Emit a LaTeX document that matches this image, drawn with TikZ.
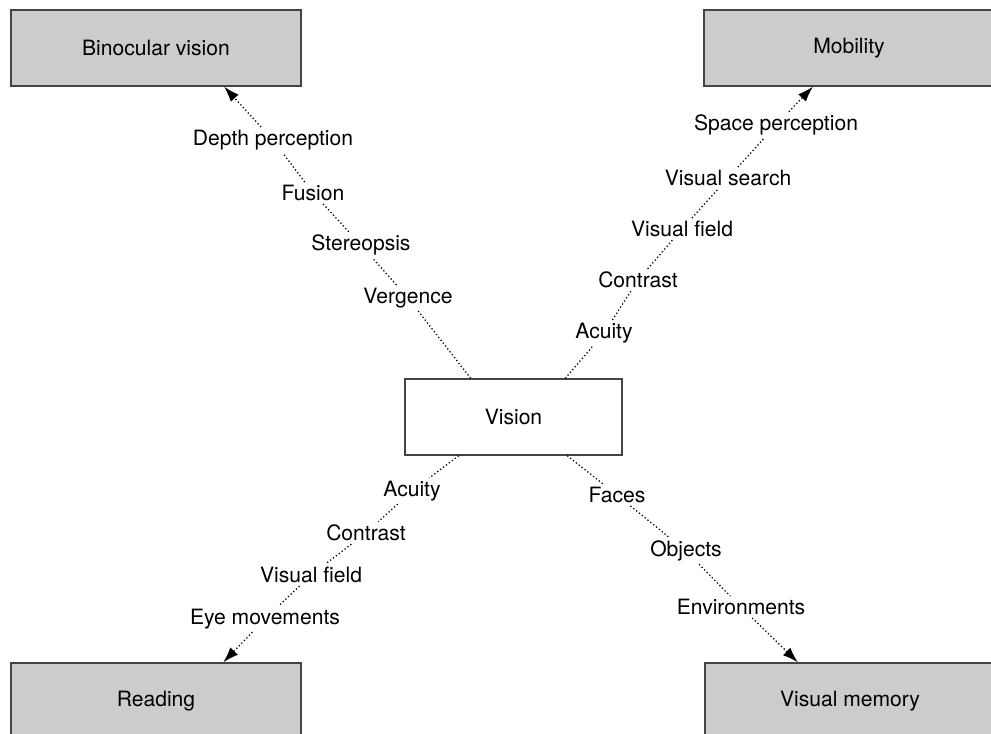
\documentclass[tikz,border=0pt]{standalone}
\usepackage{fontspec}
\setmainfont{TeX Gyre Heros}
\usetikzlibrary{arrows.meta,calc}
\definecolor{boxgray}{HTML}{CCCCCC}
\definecolor{edgegray}{HTML}{444444}
\tikzset{
    block/.style = {draw=edgegray, fill=boxgray, rectangle, line width=1pt,
        minimum height=1.9cm,
        minimum width=7.25cm, align=center},
    hub/.style = {draw=edgegray, fill=white, rectangle, line width=1pt,
        minimum height=1.9cm, minimum width=5.425cm},
    lbl/.style = {inner sep=2pt},
    dotarrow/.style = {draw, line width=0.9pt, dash pattern=on 0.9pt off 1.7pt,
        -{Latex[length=11pt,width=7.5pt]}}
}

\begin{document}
\begin{tikzpicture}[x=0.025cm, y=-0.025cm, font=\fontsize{15}{18}\selectfont]
        \useasboundingbox (0,0) rectangle (991,733);
        \clip (0,0) rectangle (991,733);
        % boxes
        \node [hub] (vision) at (513.5,417) {Vision};
        \node [block] (binoc) at (156,48) {Binocular vision};
        \node [block] (mobil) at (849,48) {Mobility};
        \node [block] (read) at (156,701) {Reading};
        \node [block] (vmem) at (850,701) {Visual memory};
        % end points on the box edges
        \coordinate (vtl) at ($(vision.north west)!.304!(vision.north east)$);
        \coordinate (vtr) at ($(vision.north west)!.737!(vision.north east)$);
        \coordinate (vbl) at ($(vision.south west)!.249!(vision.south east)$);
        \coordinate (vbr) at ($(vision.south west)!.746!(vision.south east)$);
        \coordinate (btl) at ($(binoc.south west)!.734!(binoc.south east)$);
        \coordinate (btr) at ($(mobil.south west)!.376!(mobil.south east)$);
        \coordinate (bbl) at ($(read.north west)!.731!(read.north east)$);
        \coordinate (bbr) at ($(vmem.north west)!.321!(vmem.north east)$);
        % labels
        \node [lbl] (tl1) at (408,298) {Vergence};
        \node [lbl] (tl2) at (361,245) {Stereopsis};
        \node [lbl] (tl3) at (313,193) {Fusion};
        \node [lbl] (tl4) at (273,140) {Depth perception};
        \node [lbl] (tr1) at (604,333) {Acuity};
        \node [lbl] (tr2) at (638,280) {Contrast};
        \node [lbl] (tr3) at (682,229) {Visual field};
        \node [lbl] (tr4) at (728,178) {Visual search};
        \node [lbl] (tr5) at (776,125) {Space perception};
        \node [lbl] (bl1) at (412,491) {Acuity};
        \node [lbl] (bl2) at (366,533) {Contrast};
        \node [lbl] (bl3) at (311,575) {Visual field};
        \node [lbl] (bl4) at (265,619) {Eye movements};
        \node [lbl] (br1) at (617,495) {Faces};
        \node [lbl] (br2) at (686,551) {Objects};
        \node [lbl] (br3) at (741,607) {Environments};
        % links
        \draw [dotarrow] (vtl) -- (tl1) -- (tl2) -- (tl3) -- (tl4) -- (btl);
        \draw [dotarrow] (vtr) -- (tr1) -- (tr2) -- (tr3) -- (tr4) -- (tr5) -- (btr);
        \draw [dotarrow] (vbl) -- (bl1) -- (bl2) -- (bl3) -- (bl4) -- (bbl);
        \draw [dotarrow] (vbr) -- (br1) -- (br2) -- (br3) -- (bbr);
\end{tikzpicture}
\end{document}
